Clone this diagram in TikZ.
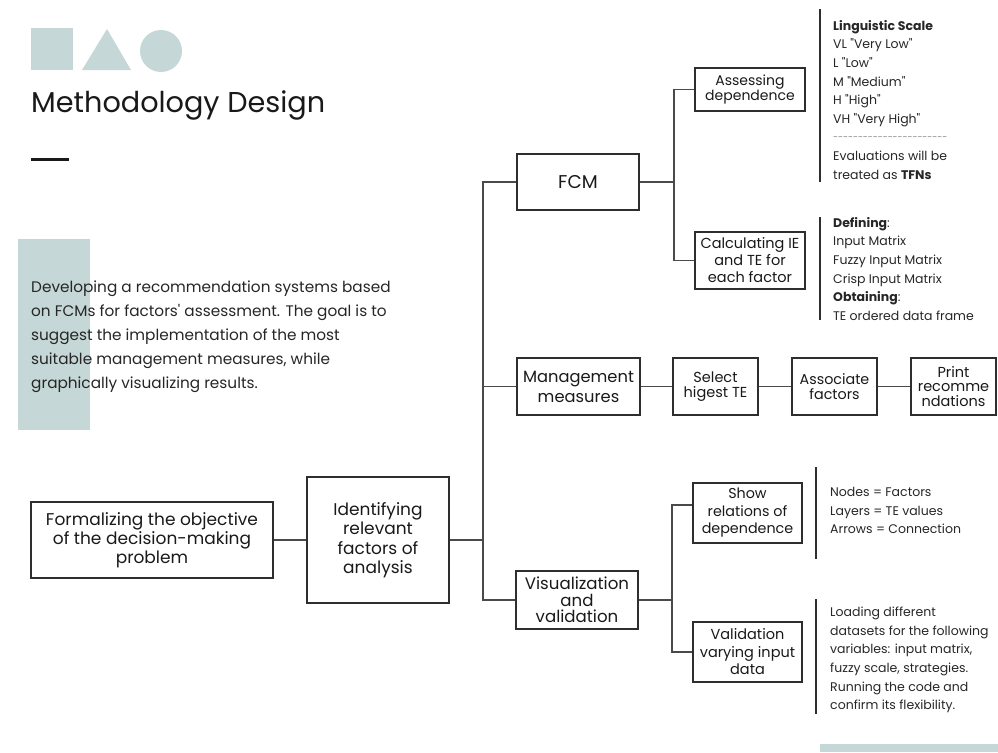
\documentclass[tikz,border=0pt]{standalone}
\usepackage{fontspec}
\setmainfont{Poppins}
\definecolor{sage}{HTML}{C5D7D6}
\definecolor{boxc}{HTML}{2E2E2E}
\definecolor{linec}{HTML}{4A4A4A}
\definecolor{notec}{HTML}{262626}
\def\hh{-\kern0pt}
\def\hhh{\hh\hh\hh\hh\hh\hh}
\def\q{\textquotedbl}
\begin{document}
\begin{tikzpicture}[x=1pt,y=-1pt,
  box/.style={draw=boxc, line width=1.1pt, inner sep=0pt, align=center, text=black!90},
  conn/.style={draw=linec, line width=1.3pt},
  sep/.style={draw=boxc, line width=1.1pt},
  note/.style={anchor=north west, inner sep=0pt, align=left, text=notec, font=\fontsize{12.5}{18.6}\selectfont},
  deco/.style={fill=sage, draw=none}]
\useasboundingbox (0,0) rectangle (998,752);

% decorative shapes
\fill[deco] (31,28) rectangle (73,70);
\fill[deco] (82,70) -- (107,29) -- (131,70) -- cycle;
\fill[deco] (161,51) circle[radius=21];
\fill[deco] (18,239) rectangle (90,430);
\fill[deco] (820,744) rectangle (998,752);
\fill[black!90] (31,158) rectangle (69,161);

\node[anchor=base west, inner sep=0pt, font=\fontsize{28.7}{30}\selectfont, text=black!90] (title) at (31,112) {Methodology Design};

\node[anchor=north west, inner sep=0pt, align=left, text=black!85, font=\fontsize{15.3}{24}\selectfont] (para) at (31,281)
 {Developing a recommendation systems based\\on FCMs for factors\textquotesingle{} assessment. The goal is to\\suggest the implementation of the most\\suitable management measures, while\\graphically visualizing results.};

% boxes
\node[box, font=\fontsize{17}{19}\selectfont, minimum width=242pt, minimum height=76pt] (form) at (152,540) {Formalizing the objective\\of the decision-making\\problem};
\node[box, font=\fontsize{17}{19.5}\selectfont, minimum width=142pt, minimum height=126pt] (ident) at (378,540) {Identifying\\relevant\\factors of\\analysis};
\node[box, font=\fontsize{18.5}{20}\selectfont, minimum width=122pt, minimum height=56pt] (fcm) at (578,182) {FCM};
\node[box, font=\fontsize{14}{13.5}\selectfont, minimum width=110pt, minimum height=43pt] (ad) at (750,89.5) {Assessing\\dependence};
\node[box, font=\fontsize{14.5}{17}\selectfont, minimum width=110pt, minimum height=57pt] (calc) at (750,260.5) {Calculating IE\\and TE for\\each factor};
\node[box, font=\fontsize{16.3}{20}\selectfont, minimum width=123pt, minimum height=57pt] (mm) at (578.5,386.5) {Management\\measures};
\node[box, font=\fontsize{14.5}{14.4}\selectfont, minimum width=85pt, minimum height=57pt] (sel) at (715.5,386.5) {Select\\higest TE};
\node[box, font=\fontsize{14.3}{14.4}\selectfont, minimum width=85pt, minimum height=57pt] (asf) at (834.5,386.5) {Associate\\factors};
\node[box, font=\fontsize{14.5}{14.4}\selectfont, minimum width=85pt, minimum height=57pt] (prt) at (953.5,386.5) {Print\\recomme\\ndations};
\node[box, font=\fontsize{16.6}{16.5}\selectfont, minimum width=122pt, minimum height=58pt] (vv) at (577,600) {Visualization\\and\\validation};
\node[box, font=\fontsize{14.3}{17.5}\selectfont, minimum width=109pt, minimum height=60pt] (show) at (747.5,513) {Show\\relations of\\dependence};
\node[box, font=\fontsize{14.5}{17.5}\selectfont, minimum width=109pt, minimum height=60pt] (valid) at (747.5,652) {Validation\\varying input\\data};

% connectors
\coordinate (tr) at (483,540);
\coordinate (fb) at (674,182);
\coordinate (vb) at (672,600);
\draw[conn] (form) -- (ident);
\draw[conn] (ident.east) -- (tr);
\draw[conn] (fcm.west) -| (tr);
\draw[conn] (vv.west) -| (tr);
\draw[conn] (mm.west) -- (mm.west -| tr);
\draw[conn] (fcm.east) -- (fb);
\draw[conn] (ad.west) -| (fb);
\draw[conn] (calc.west) -| (fb);
\draw[conn] (mm) -- (sel);
\draw[conn] (sel) -- (asf);
\draw[conn] (asf) -- (prt);
\draw[conn] (vv.east) -- (vb);
\draw[conn] ([yshift=8pt]show.west) -| (vb);
\draw[conn] (valid.west) -| (vb);

% separators
\draw[sep] (820,9) -- (820,182);
\draw[sep] (820,217) -- (820,320);
\draw[sep] (816,467) -- (816,559);
\draw[sep] (816,599) -- (816,714);

% notes
\node[note] (n1) at (833,20) {\textbf{Linguistic Scale}\\VL \q Very Low\q\\L \q Low\q\\M \q Medium\q\\H \q High\q\\VH \q Very High\q\\{\color{notec!60}\fontsize{9}{18.6}\selectfont\raisebox{1pt}{\hhh\hhh\hhh\hh\hh\hh\hh\hh}}\\Evaluations will be\\treated as \textbf{TFNs}};
\node[note] (n2) at (833,217) {\textbf{Defining}:\\Input Matrix\\Fuzzy Input Matrix\\Crisp Input Matrix\\\textbf{Obtaining}:\\TE ordered data frame};
\node[note] (n3) at (830,487) {Nodes = Factors\\Layers = TE values\\Arrows = Connection};
\node[note] (n4) at (830,607) {Loading different\\datasets for the following\\variables: input matrix,\\fuzzy scale, strategies.\\Running the code and\\confirm its flexibility.};
\end{tikzpicture}
\end{document}
